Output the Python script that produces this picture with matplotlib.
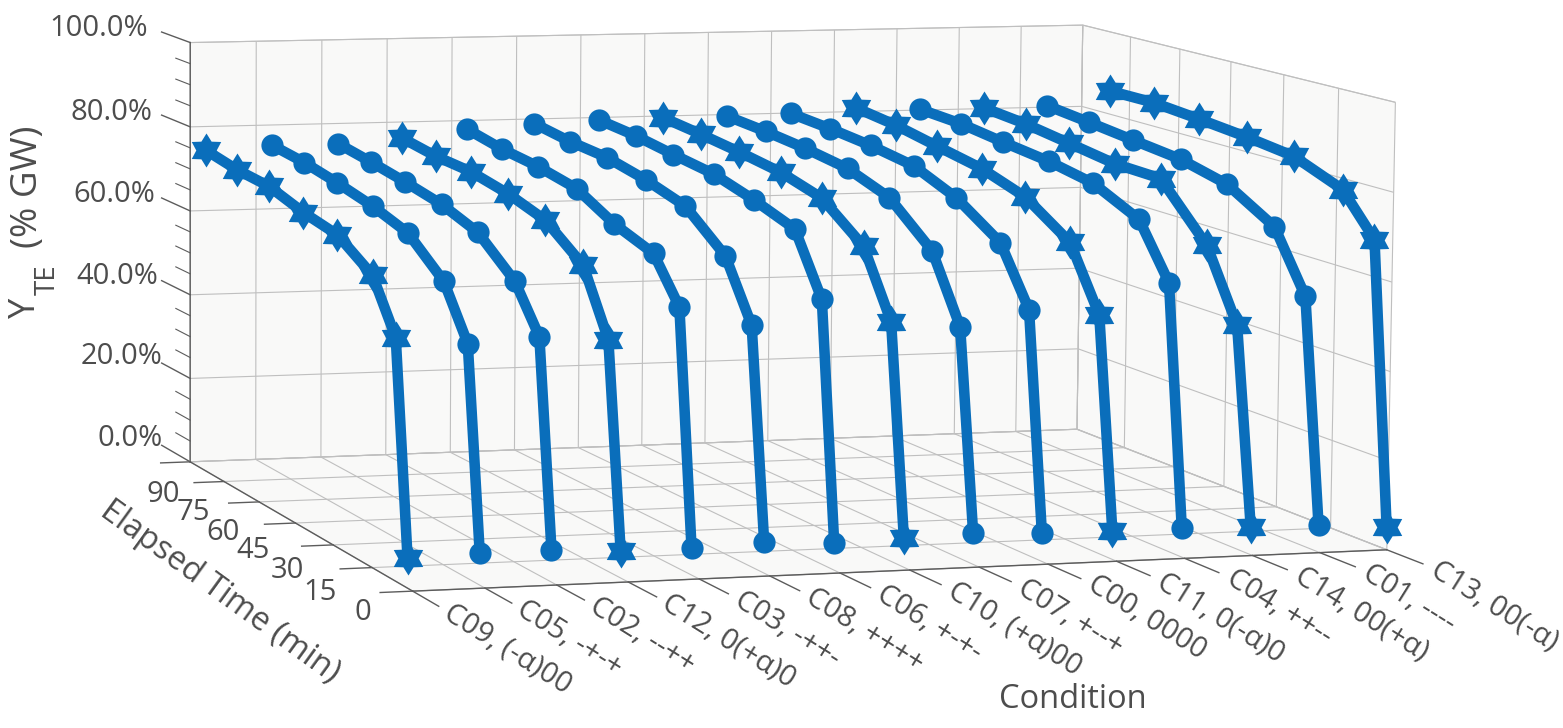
import numpy as np, matplotlib
matplotlib.use('Agg')
import matplotlib.pyplot as plt
from matplotlib.path import Path
from mpl_toolkits.mplot3d import proj3d

conditions = ['C09, (-α)00','C05, -+-+','C02, --++','C12, 0(+α)0','C03, -++-','C08, ++++','C06, +-+-',
              'C10, (+α)00','C07, +--+','C00, 0000','C11, 0(-α)0','C04, ++--','C14, 00(+α)','C01, ----','C13, 00(-α)']
cond_pos = [0,1,2,2.97,3.97,5,6,7,8,9,10.03,11.05,12.07,13.08,14.1]
star_conditions = ['C09','C12','C10','C11','C14','C13']
# positions of the points along the time axis
time_pos = [1.9,6.5,15.2,28.6,42,56,69.5,83]
time_ticks = [0,15,30,45,60,75,90]
y_ticks = [0,20,40,60,80,100]
y_minor = [5,10,15,25,30,35,45,50,55,65,70,75,85,90,95]
C09=[6.5,52.8,64.0,69.5,71.2,73.8,74.5,76.0]
C05=[7.0,51.0,62.2,69.5,72.2,74.2,75.8,76.8]
C02=[7.0,52.0,61.8,69.2,72.2,74.0,75.5,76.8]
C12=[6.2,50.8,64.8,71.5,74.2,76.0,76.5,77.8]
C03=[6.2,57.5,67.0,70.2,75.0,76.8,77.8,79.5]
C08=[6.8,53.0,66.0,73.8,76.5,78.5,79.2,80.5]
C06=[6.0,58.2,71.5,74.8,77.5,78.8,80.2,81.0]
C10=[6.5,52.8,67.2,74.8,77.5,79.0,80.2,81.2]
C07=[7.0,51.2,65.8,74.5,78.0,79.5,80.5,81.2]
C00=[6.2,54.5,67.2,74.0,78.2,79.8,80.8,81.5]
C11=[6.0,52.8,66.8,73.8,77.2,79.2,81.2,82.5]
C04=[6.2,59.5,71.5,76.5,78.5,79.8,81.2,81.8]
C14=[5.8,49.5,65.2,77.2,77.5,79.2,80.8,81.8]
C01=[5.5,55.5,69.0,75.5,78.2,79.5,80.8,82.0]
C13=[4.5,67.8,77.0,81.5,83.0,84.2,85.2,85.2]
series=[C09,C05,C02,C12,C03,C08,C06,C10,C07,C00,C11,C04,C14,C01,C13]

W,H=1563,728
BLUE='#0A6EBB'; TXT='#4d4d4d'; FONT='Open Sans'; AX='#5c5c5c'
plt.rcParams['font.family']=FONT
fig=plt.figure(figsize=(W/100,H/100),dpi=100)
s,cx,cy=1337.15,752.69,306.71
ax=fig.add_axes([(cx-s/2)/W,(H-cy-s/2)/H,s/W,s/H],projection='3d',computed_zorder=False)
ax.patch.set_alpha(0)
ax.view_init(6.9669,-108.1516,-0.5377)
ax.set_proj_type('persp',focal_length=1.0708)
ax.set_box_aspect((1,0.8824,0.4452))
ax.set_xlim(0,14,view_margin=0);ax.set_ylim(0,90,view_margin=0);ax.set_zlim(0,100,view_margin=0)

for a in (ax.xaxis,ax.yaxis,ax.zaxis):
    a.set_pane_color('#F9F9F8')
    a.pane.set_edgecolor('#c4c4c4'); a.pane.set_linewidth(0.8)
    a.line.set_color(AX); a.line.set_linewidth(1.0)
    a._axinfo['grid'].update(color='#bfbfbf',linewidth=0.8)
    a._axinfo['tick']['linewidth']={True:1.0,False:0.8}
    a._axinfo['tick']['color']=AX
ax.xaxis._axinfo['tick'].update(inward_factor=1.3,outward_factor=0)
ax.yaxis._axinfo['tick'].update(inward_factor=0.4,outward_factor=0)
ax.zaxis._axinfo['tick'].update(inward_factor=0,outward_factor=0)
ax.tick_params(colors=TXT,color=AX)
ax.set_xticks(range(len(conditions)))
ax.set_xticklabels(['']*len(conditions))
ax.set_yticks(time_ticks)
ax.set_yticklabels(['']*len(time_ticks))
ax.set_zticks(y_ticks)
ax.set_zticklabels(['']*len(y_ticks))

for v in y_ticks:
    ax.plot([0,0],[90,103],[v,v],color=AX,lw=1.0,zorder=2,clip_on=False)
for v in y_minor:
    ax.plot([0,0],[90,96.5],[v,v],color=AX,lw=0.8,zorder=2,clip_on=False)

star=Path.unit_regular_star(6,innerCircle=0.6)
for i,(c,vals) in enumerate(zip(conditions,series)):
    isstar=c[:3] in star_conditions
    ax.plot([cond_pos[i]]*len(time_pos),time_pos,vals,color=BLUE,lw=7.6,solid_joinstyle='round',
            marker=star if isstar else 'o',ms=24.5 if isstar else 16,mec=BLUE,mfc=BLUE,mew=0,
            zorder=10+len(conditions)-i,clip_on=False)
M=ax.get_proj()
for i,c in enumerate(conditions):
    X,Y,_=proj3d.proj_transform(np.array([float(i)]),np.array([-12.0]),np.array([0.0]),M)
    ax.annotate(c,(float(X[0]),float(Y[0])),xycoords='data',rotation=-32,rotation_mode='anchor',ha='left',va='center',
                fontsize=21,color=TXT,zorder=50,annotation_clip=False)

def ft(x,y,t,ha='center',**k):
    fig.text(x/W,1-y/H,t,color=TXT,ha=ha,va='center',**k)
for v,x,y in zip(y_ticks,[163,162,158,155,152,148],[438,357,277,195,113,29]):
    ft(x,y,f'{v:.1f}%',ha='right',fontsize=21)
for t,x,y in zip(time_ticks,[363,320,287,253,223,193,163],[613,592,571,551,532,513,494]):
    ft(x,y,str(t),fontsize=21)
ft(1073,700,'Condition',fontsize=23.5)
ft(220,592,'Elapsed Time (min)',fontsize=23.5,rotation=-36,rotation_mode='anchor')
ft(26,308,'Y',fontsize=26,rotation=90)
ft(48,280,'TE',fontsize=20,rotation=90)
ft(28,187,'(% GW)',fontsize=26.5,rotation=90)
fig.savefig('out.png',dpi=100)
